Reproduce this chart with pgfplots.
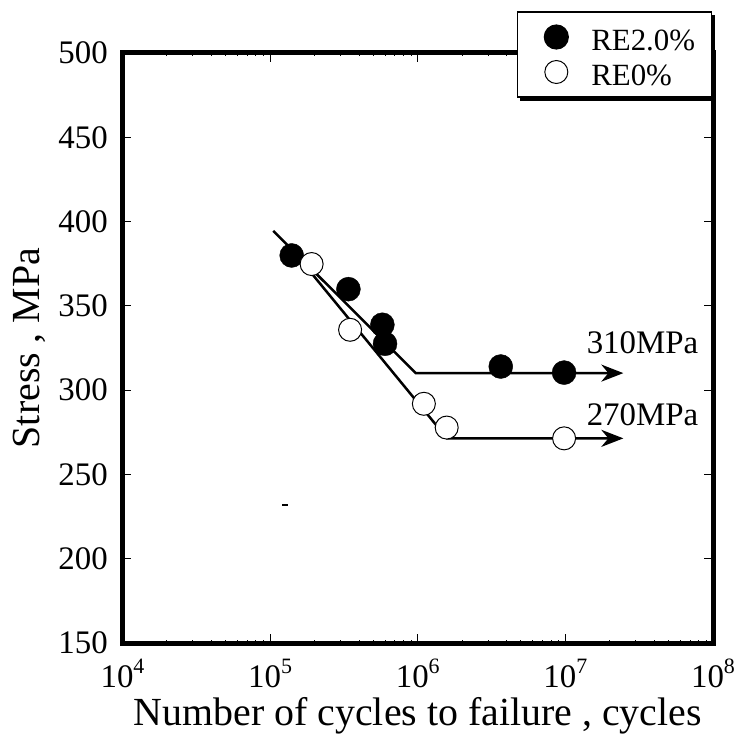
\documentclass[border=0pt]{standalone}
\usepackage{fontspec}
\setmainfont{Liberation Serif}
\usepackage{pgfplots}
\pgfplotsset{compat=1.18}
\usetikzlibrary{arrows.meta}
\pgfdeclarelayer{background}
\pgfsetlayers{background,main}
\pgfplotsset{mylegimg/.style={legend image code/.code={\path[draw=none] (0bp,0bp) -- (51bp,0bp); \draw[##1] plot coordinates {(39bp,0bp)};}}}
\newcommand{\tl}[1]{10\raisebox{14bp}{\fontsize{22}{22}\selectfont #1}}
\begin{document}
\begin{tikzpicture}
\useasboundingbox (-122.5bp,-91bp) rectangle (616.5bp,643bp);
\begin{axis}[
 scale only axis, width=590.5bp, height=590bp,
 xmode=log, xmin=1e4, xmax=1e8, ymin=150, ymax=500,
 xtick={1e4,1e5,1e6,1e7,1e8},
 xticklabels={\tl{4},\tl{5},\tl{6},\tl{7},\tl{8}},
 minor xtick={},
 ytick={150,200,250,300,350,400,450,500},
 yticklabels={150,200,250,300,350,400,450,500},
 tick align=inside, major tick length=9bp,
 every tick/.style={black, line width=1bp},
 axis line style={line width=5bp},
 ticklabel style={font=\fontsize{33}{33}\selectfont},
 xticklabel style={anchor=base, yshift=-44bp, inner sep=0pt},
 yticklabel style={anchor=east, xshift=-14.5bp, inner sep=0pt},
 xlabel={Number of cycles to failure , cycles},
 ylabel={Stress , MPa},
 label style={font=\fontsize{40}{40}\selectfont},
 xlabel style={at={(axis description cs:0.5,0)}, anchor=base, yshift=-82bp, inner sep=0pt},
 ylabel style={at={(axis description cs:0,0.5)}, anchor=center, yshift=93.5bp, inner sep=0pt},
 legend cell align=left,
 legend style={name=leg, at={(0.6676,1.0705)}, anchor=north west, draw=black, line width=1.2bp, fill=white,
   inner xsep=0bp, inner ysep=7.5bp, row sep=0bp, column sep=23bp,
   nodes={inner sep=0pt, text height=31bp, text depth=4bp},
   font=\fontsize{31}{31}\selectfont},
 clip=false,
]
% fitted lines
\addplot[forget plot, black, line width=2.5bp, -{Stealth[length=22bp,width=17bp,inset=7bp]}]
  coordinates {(1.05e5,394.5) (9.7e5,310.1) (2.47e7,310.1)};
\addplot[forget plot, black, line width=2.5bp, -{Stealth[length=22bp,width=17bp,inset=7bp]}]
  coordinates {(1.36e5,385) (1.58e6,271.4) (2.47e7,271.4)};
% RE2.0%
\addplot[only marks, mark=*, mark size=12bp, mark options={fill=black, draw=black}, mylegimg]
  coordinates {(1.40e5,379.9) (3.39e5,359.9) (5.76e5,338.8) (6.0e5,327.5) (3.65e6,314) (9.8e6,310.4)};
\addlegendentry{\makebox[120bp][l]{RE2.0\%}}
% RE0%
\addplot[only marks, mark=*, mark size=11.5bp, mark options={fill=white, draw=black, line width=1bp}, mylegimg]
  coordinates {(1.91e5,374.8) (3.48e5,335.8) (1.10e6,291.9) (1.57e6,277.8) (9.8e6,271.4)};
\addlegendentry{\makebox[120bp][l]{RE0\%}}
% stray dash
\addplot[forget plot, only marks, mark=-, mark size=3bp, mark options={line width=1.5bp}]
  coordinates {(1.26e5,231.9)};
\node[font=\fontsize{33}{33}\selectfont, inner sep=0pt] at (axis cs:3.33e7,327.9) {310MPa};
\node[font=\fontsize{33}{33}\selectfont, inner sep=0pt] at (axis cs:3.33e7,285.3) {270MPa};
\end{axis}
\begin{pgfonlayer}{background}
\fill[black] ([shift={(3.5bp,-3.5bp)}]leg.south west) rectangle ([shift={(3.5bp,-3.5bp)}]leg.north east);
\end{pgfonlayer}
\end{tikzpicture}
\end{document}
